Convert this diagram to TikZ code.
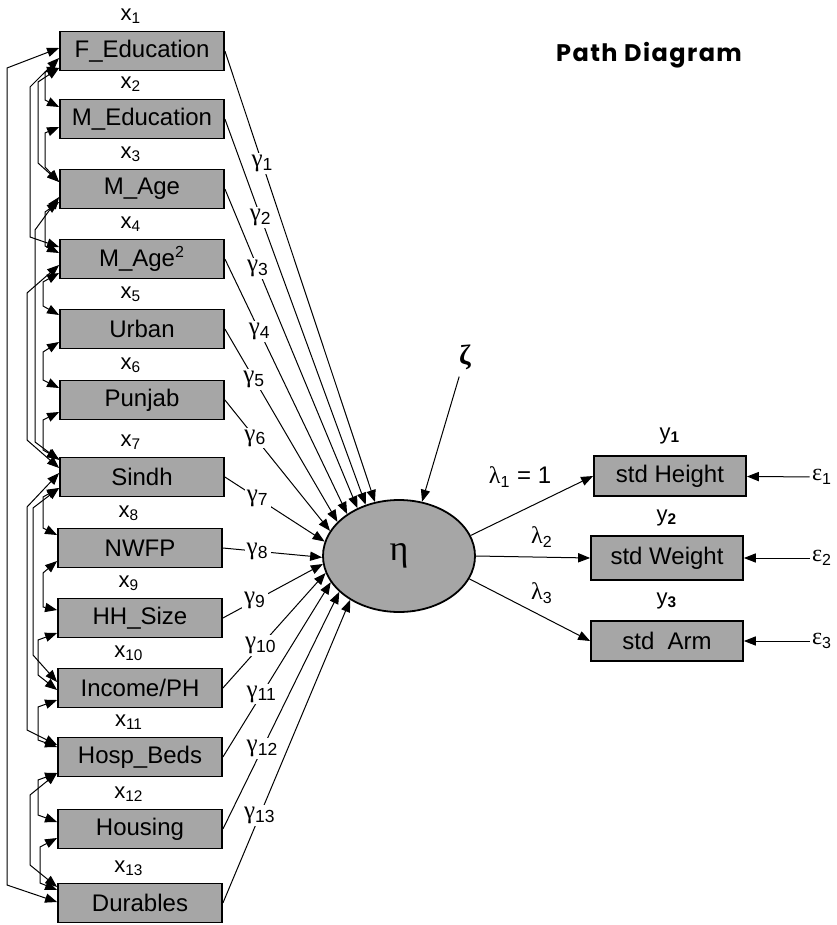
\documentclass[tikz,border=0pt]{standalone}
\usepackage{fontspec}
\setmainfont{Liberation Sans}
\newfontfamily\grk{Liberation Serif}
\newfontfamily\titfont{Poppins}[LetterSpace=6.0]
\usetikzlibrary{arrows.meta, calc, shapes.geometric}
\definecolor{caja}{RGB}{166,166,166}

\tikzset{
  var/.style={draw, line width=0.9pt, fill=caja, minimum width=82pt, minimum height=19.5pt,
    inner sep=0pt, font=\fontsize{12}{14}\selectfont},
  flecha/.style={-{Triangle[length=6pt,width=4.6pt]}, line width=0.5pt},
  cov/.style={{Triangle[length=6pt,width=4.6pt]}-{Triangle[length=6pt,width=4.6pt]}, line width=0.5pt},
  xlab/.style={font=\fontsize{11}{13}\selectfont},
  glab/.style={fill=white, inner sep=1pt, font=\fontsize{12.5}{14}\selectfont},
}

% covarianza: nodo, desplazamiento, carril, y1, y2, nodo, desplazamiento
\newcommand{\cova}[7]{\draw[cov] ($(#1.west)+(0,#2)$) -- (#3,#4) -- (#3,#5) -- ($(#6.west)+(0,#7)$);}

\begin{document}
\begin{tikzpicture}[x=0.5pt, y=-0.5pt]
        \useasboundingbox (0,0) rectangle (836,925);

        % Titulo
        \node[font={\titfont\bfseries\fontsize{12}{14}\selectfont}] (titulo) at (649,55) {Path Diagram};

        % Variables exogenas
        \foreach \n/\txt/\x/\y [count=\i] in {fe/F\_Education/142/51, me/M\_Education/142/119,
            ma/M\_Age/142/189, mb/{M\_Age\textsuperscript{2}}/142/259, ur/Urban/142/329,
            pu/Punjab/142/400, si/Sindh/142/477, nw/NWFP/140/548, hh/HH\_Size/140/618,
            ig/{Income/PH}/140/688, hb/Hosp\_Beds/140/757, ho/Housing/140/829, du/Durables/140/903}
            \node[var, label={[xlab, xshift=-5.5pt, label distance=0pt]above:x\textsubscript{\i}}] (\n) at (\x,\y) {\txt};

        % Variable latente
        \node[ellipse, draw, fill=caja, line width=0.9pt, minimum width=76pt, minimum height=56pt,
            inner sep=0pt] (eta) at (399,556) {\fontsize{18}{20}\grk η};

        % Indicadores
        \node[var, minimum width=76pt, minimum height=20pt,
            label={[xlab, label distance=2pt]above:y\textsubscript{\textbf{1}}}] (hei) at (670,476) {std Height};
        \node[var, minimum width=76pt, minimum height=22pt,
            label={[xlab, label distance=1pt]above:y\textsubscript{\textbf{2}}}] (wei) at (667,558) {std Weight};
        \node[var, minimum width=76pt, minimum height=20pt,
            label={[xlab, label distance=2pt]above:y\textsubscript{\textbf{3}}}] (arm) at (667,641) {std~ Arm};

        % Gammas
        \foreach \n/\a/\p [count=\i] in {fe/114/0.25, me/123/0.255, ma/131/0.25, mb/141/0.285,
            ur/151/0.26, pu/160/0.29, si/169/0.33, nw/181/0.35, hh/186/0.32, ig/193/0.37,
            hb/201/0.36, ho/211/0.34, du/222/0.29}
            \draw[flecha] (\n.east) -- coordinate[pos=\p] (g\i) (eta.\a);
        \foreach \i in {1,...,13}
            \node[glab] (gl\i) at (g\i) {{\grk γ}\textsubscript{\i}};

        % Perturbacion
        \node (zeta) at (465,357) {\fontsize{14}{16}\grk\bfseries ζ};
        \draw[flecha] (zeta) -- (eta.67);

        % Lambdas
        \draw[flecha] (eta.16) -- (hei.west);
        \draw[flecha] (eta.east) -- (wei.west);
        \draw[flecha] (eta.-18) -- (arm.west);
        \node[font=\fontsize{12}{14}\selectfont] (l1) at (520,477) {{\grk λ}\textsubscript{1} = 1};
        \node[font=\fontsize{12}{14}\selectfont] (l2) at (542,537) {{\grk λ}\textsubscript{2}};
        \node[font=\fontsize{12}{14}\selectfont] (l3) at (542,593) {{\grk λ}\textsubscript{3}};

        % Errores
        \foreach \e/\b/\y in {1/hei/477, 2/wei/558, 3/arm/641} {
            \node[inner sep=1pt, font=\fontsize{12}{14}\selectfont] (e\e) at (822,\y) {{\grk ε}\textsubscript{\e}};
            \draw[flecha] (e\e) -- (\b);
        }

        % Covarianzas
        \cova{fe}{-3}{7}{68}{885}{du}{-1}
        \cova{fe}{7}{30}{87}{237}{mb}{-12}
        \cova{fe}{17}{38}{82}{163}{ma}{-7}
        \cova{fe}{17}{45}{72}{100}{me}{-12}
        \cova{me}{8}{45}{133}{167}{ma}{-7}
        \cova{ma}{13}{45}{212}{246}{mb}{-6}
        \cova{ma}{8}{35}{230}{442}{si}{-17}
        \cova{mb}{6}{27}{293}{440}{si}{-9}
        \cova{mb}{14}{43}{282}{306}{ur}{-14}
        \cova{ur}{13}{43}{352}{380}{pu}{-12}
        \cova{pu}{12}{43}{420}{450}{si}{-18}
        \cova{si}{11}{43}{497}{528}{nw}{-13}
        \cova{si}{11}{33}{508}{655}{ig}{-6}
        \cova{si}{-4}{27}{507}{730}{hb}{-12}
        \cova{nw}{13}{43}{573}{607}{hh}{-8}
        \cova{hh}{15}{38}{640}{675}{ig}{2}
        \cova{ig}{12}{38}{707}{740}{hb}{-10}
        \cova{hb}{16}{38}{780}{815}{ho}{-7}
        \cova{hb}{16}{30}{795}{865}{du}{-16}
        \cova{ho}{9}{40}{847}{883}{du}{-13}

    \end{tikzpicture}
\end{document}
